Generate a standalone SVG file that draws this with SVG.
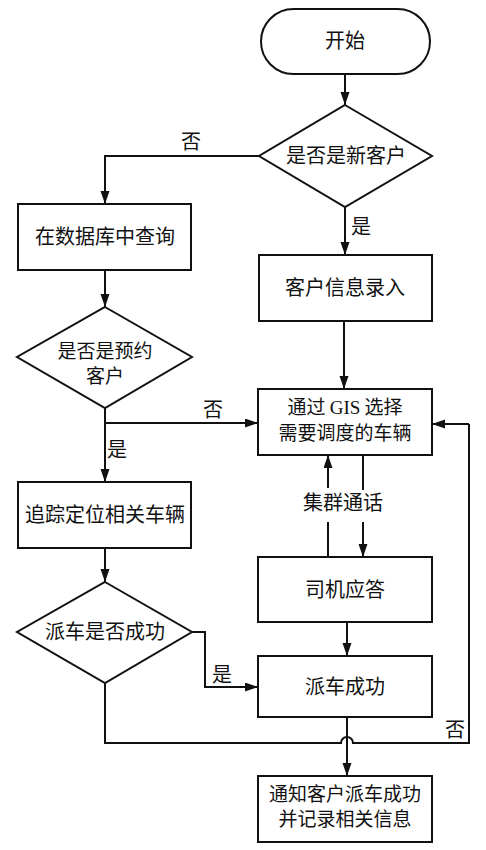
<svg xmlns="http://www.w3.org/2000/svg" width="486" height="850" viewBox="0 0 486 850">
<defs>
<marker id="ah" markerUnits="userSpaceOnUse" markerWidth="14" markerHeight="10" refX="13" refY="4.5" orient="auto">
<path d="M0,0 L13,4.5 L0,9 z" fill="#111"/>
</marker>
<style>
.n{fill:#fff;stroke:#111;stroke-width:2}
.t{font-family:"Noto Sans CJK SC","Liberation Serif",sans-serif;font-size:20px;fill:#111;text-anchor:middle}
.t2{font-size:19px}
.l{fill:none;stroke:#111;stroke-width:2}
.a{fill:none;stroke:#111;stroke-width:2;marker-end:url(#ah)}
</style>
</defs>
<rect width="486" height="850" fill="#fff"/>
<g id="connectors">
<path class="a" d="M345,74 V105"/>
<path class="a" d="M259,156 H105 V204"/>
<path class="a" d="M345,207 V255"/>
<path class="a" d="M105,270 V307"/>
<path class="a" d="M344,321 V389"/>
<path class="a" d="M105,408 V482"/>
<path class="a" d="M105,423 H258"/>
<path class="a" d="M328,488 V455"/>
<path class="l" d="M328,557 V522"/>
<path class="l" d="M363,455 V490"/>
<path class="a" d="M363,522 V557"/>
<path class="a" d="M105,548 V582"/>
<path class="a" d="M347,622 V656"/>
<path class="a" d="M192,632 H205 V687 H258"/>
<path class="l" d="M105,683 V743 H341 A6,6 0 0 1 353,743 H469 V424"/>
<path class="a" d="M469,424 H432"/>
<path class="a" d="M347,717 V776"/>
<text class="t" x="191" y="149">否</text>
<text class="t" x="361" y="234">是</text>
<text class="t" x="213" y="417">否</text>
<text class="t" x="117" y="457">是</text>
<text class="t" x="343" y="510">集群通话</text>
<text class="t" x="222" y="682">是</text>
<text class="t" x="455" y="737">否</text>
</g>
<g id="start">
<rect class="n" x="261" y="9" width="169" height="65" rx="32.5" ry="32.5"/>
<text class="t" x="345" y="48">开始</text>
</g>
<g id="d_new">
<polygon class="n" points="345,105 432,156 345,207 259,156"/>
<text class="t" x="346" y="163">是否是新客户</text>
</g>
<g id="query">
<rect class="n" x="18" y="204" width="173" height="66"/>
<text class="t" x="105" y="244">在数据库中查询</text>
</g>
<g id="input">
<rect class="n" x="259" y="255" width="173" height="66"/>
<text class="t" x="345" y="295">客户信息录入</text>
</g>
<g id="d_reserve">
<polygon class="n" points="105,307 192,357 105,408 17,357"/>
<text class="t t2" x="105" y="358">是否是预约</text>
<text class="t t2" x="105" y="383">客户</text>
</g>
<g id="gis">
<rect class="n" x="258" y="389" width="174" height="66"/>
<text class="t t2" x="345" y="414">通过 <tspan font-family="Liberation Serif">GIS</tspan> 选择</text>
<text class="t t2" x="345" y="440">需要调度的车辆</text>
</g>
<g id="track">
<rect class="n" x="18" y="482" width="173" height="66"/>
<text class="t" x="105" y="522">追踪定位相关车辆</text>
</g>
<g id="driver">
<rect class="n" x="258" y="557" width="174" height="65"/>
<text class="t" x="345" y="597">司机应答</text>
</g>
<g id="d_success">
<polygon class="n" points="105,582 192,632 105,683 17,632"/>
<text class="t" x="105" y="639">派车是否成功</text>
</g>
<g id="dispatch">
<rect class="n" x="258" y="656" width="174" height="61"/>
<text class="t" x="345" y="694">派车成功</text>
</g>
<g id="notify">
<rect class="n" x="258" y="776" width="174" height="66"/>
<text class="t t2" x="345" y="801">通知客户派车成功</text>
<text class="t t2" x="345" y="826">并记录相关信息</text>
</g>
</svg>
